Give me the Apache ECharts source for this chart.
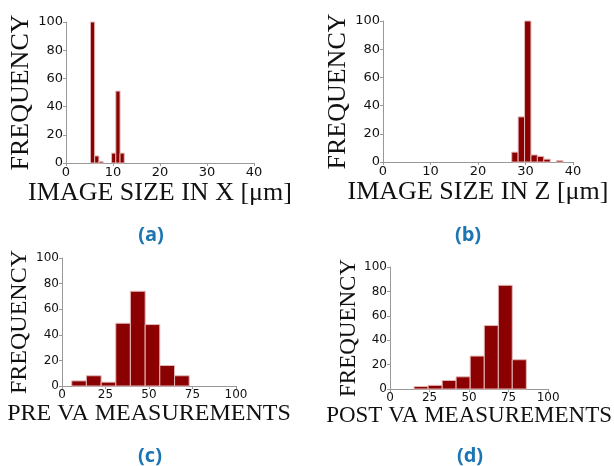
<!DOCTYPE html>
<html>
<head>
<meta charset="utf-8">
<script src="https://cdn.jsdelivr.net/npm/echarts@6/dist/echarts.min.js"></script>
<style>
  html, body { margin: 0; padding: 0; background: #fff; }
  #chart { width: 614px; height: 466px; }
</style>
</head>
<body>
<div id="chart"></div>
<script>
// histogram bin edges and counts
var aEdges = [5.2, 6.1, 7.0, 7.9, 8.8, 9.7, 10.6, 11.5, 12.4];
var aCounts = [100, 5, 1, 0, 0, 7, 51, 7];

var bEdges = [27.1, 28.45, 29.8, 31.15, 32.5, 33.85, 35.2, 36.55, 37.9];
var bCounts = [7, 32, 100, 5, 4, 2, 0, 1];

var cEdges = [5.6, 14.0, 22.5, 30.9, 39.3, 47.8, 56.2, 64.7, 73.1];
var cCounts = [4, 8, 3, 49, 74, 48, 16, 8];

var dEdges = [15.2, 24.1, 33.0, 41.8, 50.7, 59.6, 68.5, 77.3, 86.2];
var dCounts = [2, 3, 7, 10, 27, 52, 85, 24];

var xTitles = ['IMAGE SIZE IN X [\u03bcm]', 'IMAGE SIZE IN Z [\u03bcm]', 'PRE VA MEASUREMENTS', 'POST VA MEASUREMENTS'];
var yTitle = 'FREQUENCY';
var panelTags = ['(a)', '(b)', '(c)', '(d)'];

function bins(edges, counts) {
  var out = [];
  for (var i = 0; i < counts.length; i++) {
    if (counts[i] > 0) out.push([edges[i], edges[i + 1], counts[i]]);
  }
  return out;
}

function renderBin(params, api) {
  var p0 = api.coord([api.value(0), 0]);
  var p1 = api.coord([api.value(1), api.value(2)]);
  return {
    type: 'rect',
    shape: { x: p0[0], y: p1[1], width: p1[0] - p0[0], height: p0[1] - p1[1] },
    style: { fill: '#8b0000', stroke: '#e3b8b8', lineWidth: 1 }
  };
}

var grids = [
  { left: 66, right: 360, top: 22, bottom: 303 },
  { left: 383, right: 41, top: 21, bottom: 304 },
  { left: 62, right: 378, top: 258, bottom: 80 },
  { left: 390, right: 60, top: 267, bottom: 77 }
];
var xMax = [40, 40, 100, 100];
var xStep = [10, 10, 25, 25];
var tickFont = [13, 13, 12, 12];
var titleFont = [26, 26, 24, 23];
var xGap = [17, 17, 15, 15];
var yGap = [30, 30, 27, 25];
var data = [bins(aEdges, aCounts), bins(bEdges, bCounts), bins(cEdges, cCounts), bins(dEdges, dCounts)];

var axisLine = { show: true, lineStyle: { color: '#999', width: 1 } };
var xAxes = [], yAxes = [], series = [];
for (var i = 0; i < 4; i++) {
  xAxes.push({
    gridIndex: i, type: 'value', min: 0, max: xMax[i], interval: xStep[i],
    splitLine: { show: false },
    axisLine: axisLine,
    axisTick: { show: true, length: 3, lineStyle: { color: '#999' } },
    axisLabel: { color: '#111', fontSize: tickFont[i], fontFamily: 'DejaVu Sans', margin: 3 },
    name: xTitles[i], nameLocation: 'middle', nameGap: xGap[i],
    nameTextStyle: { color: '#111', fontSize: titleFont[i], fontFamily: 'Liberation Serif' }
  });
  yAxes.push({
    gridIndex: i, type: 'value', min: 0, max: 100, interval: 20,
    splitLine: { show: false },
    axisLine: axisLine,
    axisTick: { show: true, length: 3, lineStyle: { color: '#999' } },
    axisLabel: { color: '#111', fontSize: tickFont[i], fontFamily: 'DejaVu Sans', margin: 3 },
    name: yTitle, nameLocation: 'middle', nameGap: yGap[i],
    nameTextStyle: { color: '#111', fontSize: titleFont[i], fontFamily: 'Liberation Serif' }
  });
  series.push({
    type: 'custom', xAxisIndex: i, yAxisIndex: i,
    renderItem: renderBin,
    encode: { x: [0, 1], y: 2 },
    data: data[i]
  });
}

var tagPos = [[151, 235], [468, 235], [150, 456], [470, 456]];
var graphic = panelTags.map(function (t, k) {
  return {
    type: 'text', x: tagPos[k][0], y: tagPos[k][1],
    style: {
      text: t, fill: '#1b75b3', font: 'bold 20px "Open Sans"',
      textAlign: 'center', textVerticalAlign: 'middle'
    }
  };
});

var chart = echarts.init(document.getElementById('chart'));
chart.setOption({
  backgroundColor: '#fff',
  animation: false,
  grid: grids,
  xAxis: xAxes,
  yAxis: yAxes,
  series: series,
  graphic: graphic
});
</script>
</body>
</html>
